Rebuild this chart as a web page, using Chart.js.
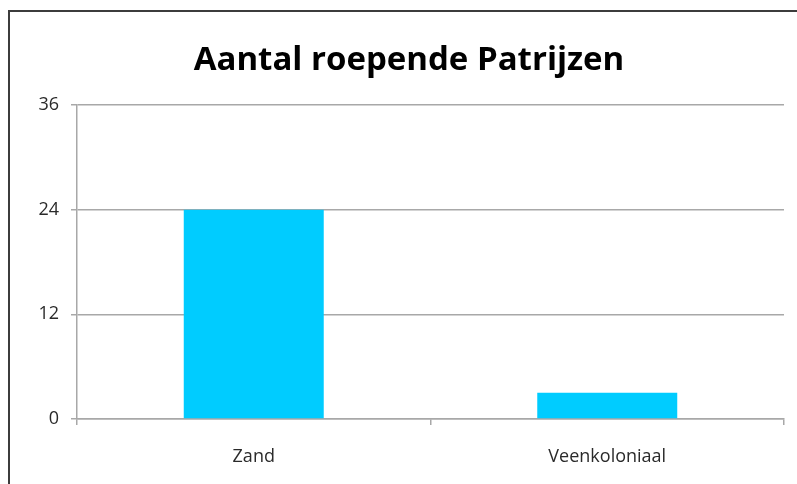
<!DOCTYPE html>
<html>
<head>
<meta charset="utf-8">
<script src="https://cdn.jsdelivr.net/npm/chart.js@4/dist/chart.umd.min.js"></script>
<style>
    html, body { margin: 0; padding: 0; background: #fff; }
    #wrap { position: relative; width: 797px; height: 484px; overflow: hidden; }
    #frame {
        position: absolute; left: 8px; top: 10px; right: -10px; bottom: -10px;
        border-left: 2px solid #3c3c3c; border-top: 2px solid #3c3c3c;
    }
    canvas { position: absolute; left: 0; top: 0; }
</style>
</head>
<body>
<div id="wrap">
    <div id="frame"></div>
    <canvas id="chart" width="797" height="484"></canvas>
</div>
<script>
    // Chart data
    const categories = ['Zand', 'Veenkoloniaal'];
    const roepend = [24, 3];
    const yTicks = [0, 12, 24, 36];
    const chartTitle = 'Aantal roepende Patrijzen';

    const gridColor = '#a8a8a8';
    const labelFont = { family: 'Open Sans', size: 18 };

    // Title is drawn by hand so it can sit a bit right of the canvas centre
    const titlePlugin = {
        id: 'manualTitle',
        afterDraw(chart) {
            const c = chart.ctx;
            c.save();
            c.font = 'bold 33px "Open Sans"';
            c.fillStyle = '#000';
            c.textAlign = 'center';
            c.textBaseline = 'alphabetic';
            c.fillText(chartTitle, 409, 70);
            c.restore();
        }
    };

    const ctx = document.getElementById('chart');
    new Chart(ctx, {
        type: 'bar',
        data: {
            labels: categories,
            datasets: [{
                label: 'Aantal',
                data: roepend,
                backgroundColor: '#00ccff',
                barPercentage: 0.396,
                categoryPercentage: 1
            }]
        },
        plugins: [titlePlugin],
        options: {
            responsive: false,
            animation: false,
            layout: { padding: { left: 0, right: 13, top: 105, bottom: 0 } },
            plugins: {
                legend: { display: false },
                tooltip: { enabled: false },
                title: { display: false }
            },
            scales: {
                x: {
                    grid: {
                        offset: true,
                        drawOnChartArea: false,
                        tickLength: 6,
                        color: gridColor,
                        lineWidth: 1.5
                    },
                    border: { color: gridColor, width: 1.5 },
                    ticks: { color: '#2a2a2a', font: labelFont, padding: 21 },
                    afterFit: (scale) => { scale.height = 65; }
                },
                y: {
                    min: 0,
                    max: 36,
                    afterBuildTicks: (scale) => {
                        scale.ticks = yTicks.map(v => ({ value: v }));
                    },
                    grid: {
                        color: gridColor,
                        lineWidth: 1.5,
                        tickLength: 6
                    },
                    border: { color: gridColor, width: 1.5 },
                    ticks: { color: '#2a2a2a', font: labelFont, padding: 12 },
                    afterFit: (scale) => { scale.width = 77; }
                }
            }
        }
    });
</script>
</body>
</html>
